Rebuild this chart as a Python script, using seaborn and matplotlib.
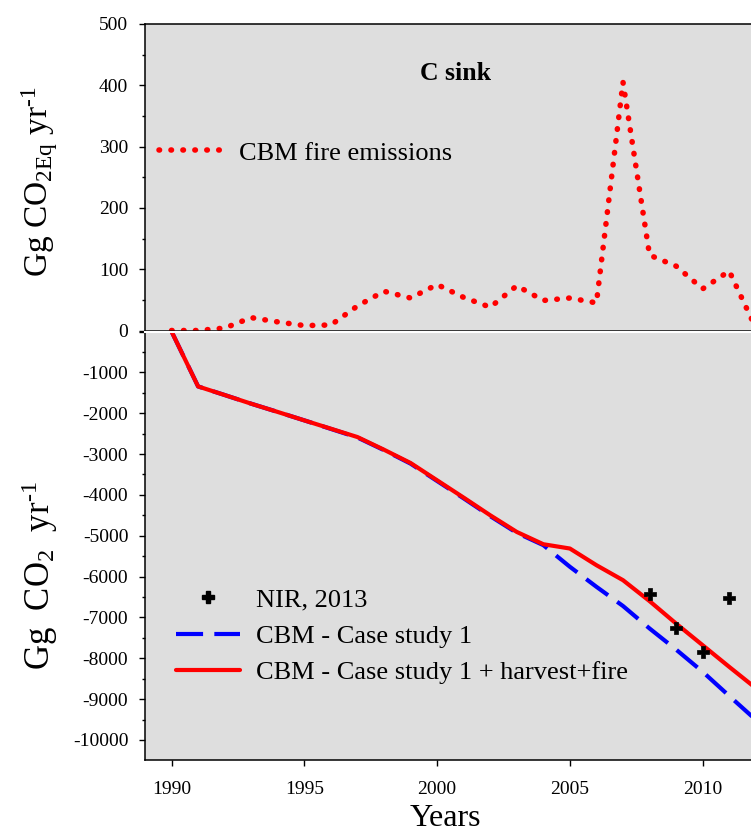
import matplotlib
matplotlib.use("Agg")
import matplotlib.pyplot as plt
import seaborn as sns
from matplotlib.lines import Line2D
from matplotlib.ticker import MultipleLocator

# values
years = list(range(1990, 2013))
fire = [0, 0, 4, 21, 14, 8, 9, 40, 64, 53, 75, 54, 38, 73, 49, 53, 45, 405, 123, 105, 68, 97, 4]
cbm_harvest_fire = [0, -1345, -1555, -1768, -1970, -2176, -2380, -2584, -2894, -3219, -3643,
                    -4067, -4499, -4907, -5208, -5313, -5721, -6088, -6600, -7150, -7680, -8210, -8730]
cbm_case1 = [0, -1345, -1555, -1768, -1970, -2176, -2385, -2595, -2905, -3235, -3660,
             -4085, -4520, -4930, -5230, -5760, -6250, -6720, -7270, -7787, -8330, -8922, -9506]
nir_years = [2008, 2009, 2010, 2011]
nir = [-6430, -7270, -7841, -6512]

sns.set_style("ticks")
plt.rcParams['font.family'] = ['Liberation Serif', 'DejaVu Serif']
plt.rcParams['mathtext.fontset'] = 'custom'
plt.rcParams['mathtext.rm'] = 'Liberation Serif'
plt.rcParams['mathtext.it'] = 'Liberation Serif:italic'
for k in ('text.color', 'axes.labelcolor', 'xtick.color', 'ytick.color'):
    plt.rcParams[k] = 'black'

bg = '#dedede'
W, H = 751, 836
fig = plt.figure(figsize=(7.51, 8.36), dpi=100)
left = 145 / W
ax1 = fig.add_axes([left, 1 - 330.5 / H, 1 - left, (330.5 - 24) / H])
ax2 = fig.add_axes([left, 1 - 760 / H, 1 - left, (760 - 331.5) / H])

dot_style = (0, (0.1, 2.05))
sns.lineplot(x=years, y=fire, ax=ax1, color='red', lw=4.0, linestyle=dot_style,
             dash_capstyle='round')
sns.lineplot(x=years, y=cbm_case1, ax=ax2, color='blue', lw=3.0, linestyle=(0, (6.5, 2.7)))
sns.lineplot(x=years, y=cbm_harvest_fire, ax=ax2, color='red', lw=3.0)
sns.scatterplot(x=nir_years, y=nir, ax=ax2, color='black', marker='P', s=70,
                edgecolor='black', linewidth=0.5, zorder=5)

for ax in (ax1, ax2):
    ax.set_facecolor(bg)
    ax.set_xlim(1989, 2011.82)
    ax.set_xticks(range(1990, 2011, 5))
    ax.spines['right'].set_visible(False)
    for s in ('left', 'bottom', 'top'):
        ax.spines[s].set_linewidth(1.1)
        ax.spines[s].set_color('black')
    ax.tick_params(axis='both', which='major', direction='out', length=4, width=1,
                   labelsize=14, pad=8, color='black', labelcolor='black')
    ax.tick_params(axis='x', which='major', pad=11)
    ax.tick_params(axis='y', which='minor', direction='out', length=2.5, width=1, color='black')
    ax.set_xlabel('')
    ax.set_ylabel('')
    ax.grid(False)

ax1.set_ylim(0, 500)
ax1.yaxis.set_major_locator(MultipleLocator(100))
ax1.yaxis.set_minor_locator(MultipleLocator(50))
ax1.set_xticklabels([])

ax2.set_ylim(-10490, 0)
ax2.set_yticks(range(-10000, 1, 1000))
ax2.set_yticklabels([str(v) for v in range(-10000, 0, 1000)] + [''])
ax2.yaxis.set_minor_locator(MultipleLocator(500))
ax2.spines['top'].set_color('white')
ax2.spines['top'].set_linewidth(1.5)

ax1.text(455 / W, 1 - 74 / H, 'C sink', transform=fig.transFigure, ha='center', va='center',
         fontsize=18.5, fontweight='bold')

fs = 19
ax1.legend(handles=[Line2D([], [], color='red', lw=4.0, linestyle=dot_style, dash_capstyle='round')],
           labels=['CBM fire emissions'], loc='center left',
           bbox_to_anchor=(159 / W, 1 - 153 / H), bbox_transform=fig.transFigure,
           frameon=False, fontsize=fs, handlelength=2.45, handletextpad=0.6,
           borderpad=0, borderaxespad=0)

handles = [Line2D([], [], color='black', marker='P', markersize=8, linestyle='none'),
           Line2D([], [], color='blue', lw=3.0, linestyle=(0, (6.5, 2.7))),
           Line2D([], [], color='red', lw=3.0)]
labels = ['NIR, 2013', 'CBM - Case study 1', 'CBM - Case study 1 + harvest+fire']
ax2.legend(handles=handles, labels=labels, loc='center left',
           bbox_to_anchor=(176 / W, 1 - 636 / H), bbox_transform=fig.transFigure,
           frameon=False, fontsize=fs, handlelength=2.42, handletextpad=0.6,
           labelspacing=0.48, borderpad=0, borderaxespad=0)

fig.text(40 / W, 1 - 182 / H, 'Gg CO$_{\\mathrm{2Eq}}$ yr$^{\\mathrm{\u20101}}$', rotation=90,
         ha='center', va='center', fontsize=24)
fig.text(40 / W, 1 - 576 / H, 'Gg  CO$_{\\mathrm{2}}$  yr$^{\\mathrm{\u20101}}$', rotation=90,
         ha='center', va='center', fontsize=25)
fig.text(445 / W, 1 - 819 / H, 'Years', ha='center', va='center', fontsize=23)

fig.savefig('out.png', dpi=100, facecolor='white')
